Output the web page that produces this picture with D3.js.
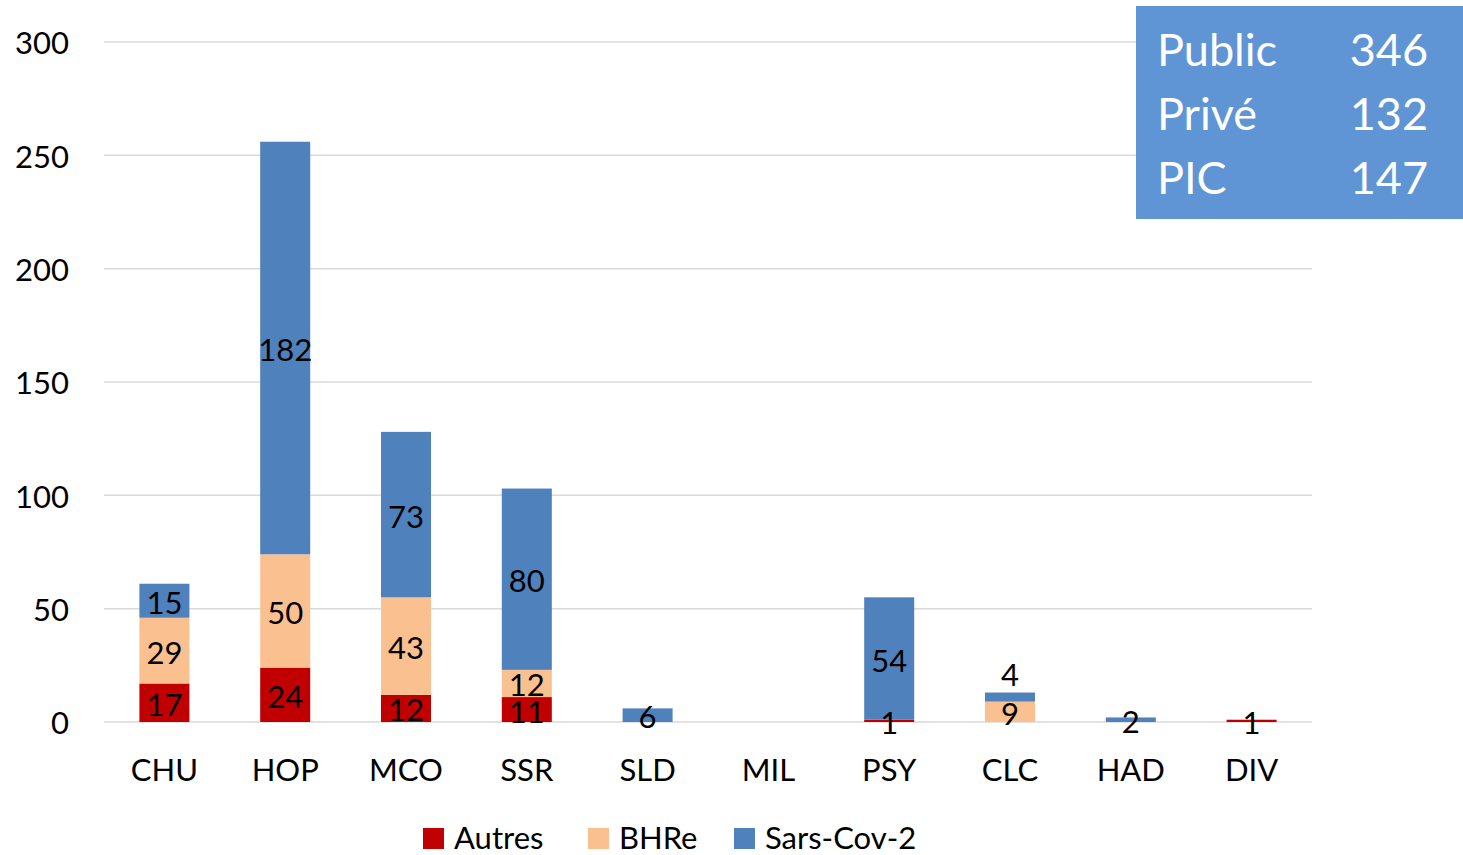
<!DOCTYPE html>
<html>
<head>
<meta charset="utf-8">
<script src="https://cdn.jsdelivr.net/npm/d3@7"></script>
<style>
  body { margin: 0; background: #fff; }
  svg text { font-family: Lato, "Open Sans", sans-serif; }
</style>
</head>
<body>
<div id="chart"></div>
<script>
const CATEGORIES = ["CHU", "HOP", "MCO", "SSR", "SLD", "MIL", "PSY", "CLC", "HAD", "DIV"];
const SERIES = ["Autres", "BHRe", "Sars-Cov-2"];
const AUTRES = [17, 24, 12, 11, 0, 0, 1, 0, 0, 1];
const BHRE = [29, 50, 43, 12, 0, 0, 0, 9, 0, 0];
const SARS = [15, 182, 73, 80, 6, 0, 54, 4, 2, 0];
const Y_TICKS = [0, 50, 100, 150, 200, 250, 300];
const BOX_LABELS = ["Public", "Privé", "PIC"];
const BOX_VALUES = [346, 132, 147];

const COLORS = { "Autres": "#c00000", "BHRe": "#fac090", "Sars-Cov-2": "#4f81bd" };

const WIDTH = 1463;
const HEIGHT = 855;
const MARGIN = { top: 42, right: 151, bottom: 133, left: 104 };
const boundedWidth = WIDTH - MARGIN.left - MARGIN.right;
const boundedHeight = HEIGHT - MARGIN.top - MARGIN.bottom;

const rows = CATEGORIES.map((c, i) => ({
  cat: c,
  "Autres": AUTRES[i],
  "BHRe": BHRE[i],
  "Sars-Cov-2": SARS[i]
}));

const stacked = d3.stack().keys(SERIES)(rows);

const xScale = d3.scaleBand()
  .domain(CATEGORIES)
  .range([0, boundedWidth])
  .paddingInner(0.586)
  .paddingOuter(0.293);

const yScale = d3.scaleLinear()
  .domain([0, 300])
  .range([boundedHeight, 0]);

const svg = d3.select("#chart")
  .append("svg")
  .attr("width", WIDTH)
  .attr("height", HEIGHT);

const bounds = svg.append("g")
  .attr("transform", `translate(${MARGIN.left}, ${MARGIN.top})`);

// gridlines
bounds.append("g")
  .selectAll("line")
  .data(Y_TICKS)
  .join("line")
  .attr("x1", 0)
  .attr("x2", boundedWidth)
  .attr("y1", d => yScale(d))
  .attr("y2", d => yScale(d))
  .attr("stroke", "#d9d9d9")
  .attr("stroke-width", 1.5);

// y axis labels
const yAxis = d3.axisLeft(yScale).tickValues(Y_TICKS).tickSize(0).tickPadding(35);
bounds.append("g")
  .call(yAxis)
  .call(g => g.select(".domain").remove())
  .selectAll("text")
  .attr("font-size", 31)
  .attr("dy", "0.38em")
  .attr("fill", "#000")
  .style("font-family", "Lato, sans-serif");

// x axis labels
const xAxis = d3.axisBottom(xScale).tickSize(0).tickPadding(37);
bounds.append("g")
  .attr("transform", `translate(0, ${boundedHeight})`)
  .call(xAxis)
  .call(g => g.select(".domain").remove())
  .selectAll("text")
  .attr("font-size", 31)
  .attr("fill", "#000")
  .style("font-family", "Lato, sans-serif");

// bars
const layers = bounds.append("g")
  .selectAll("g")
  .data(stacked)
  .join("g")
  .attr("fill", d => COLORS[d.key]);

layers.selectAll("rect")
  .data(d => d)
  .join("rect")
  .attr("x", d => xScale(d.data.cat))
  .attr("y", d => yScale(d[1]))
  .attr("width", xScale.bandwidth())
  .attr("height", d => yScale(d[0]) - yScale(d[1]));

// data labels
const labels = [];
stacked.forEach(layer => {
  layer.forEach(d => {
    const v = d[1] - d[0];
    if (v > 0) labels.push({ cat: d.data.cat, v, mid: (d[0] + d[1]) / 2, key: layer.key });
  });
});
// CLC's small Sars segment label sits above the bar
bounds.append("g")
  .selectAll("text")
  .data(labels)
  .join("text")
  .attr("x", d => xScale(d.cat) + xScale.bandwidth() / 2)
  .attr("y", d => (d.cat === "CLC" && d.key === "Sars-Cov-2") ? yScale(d.mid) - 24 : yScale(d.mid))
  .attr("dy", "0.42em")
  .attr("text-anchor", "middle")
  .attr("font-size", 31)
  .attr("fill", "#000")
  .text(d => d.v);

// legend
const legendItems = [
  { key: "Autres", x: 423 },
  { key: "BHRe", x: 588 },
  { key: "Sars-Cov-2", x: 734 }
];
const legend = svg.append("g");
legend.selectAll("rect")
  .data(legendItems)
  .join("rect")
  .attr("x", d => d.x)
  .attr("y", 828)
  .attr("width", 21)
  .attr("height", 21)
  .attr("fill", d => COLORS[d.key]);
legend.selectAll("text")
  .data(legendItems)
  .join("text")
  .attr("x", d => d.x + 31)
  .attr("y", 849)
  .attr("font-size", 31)
  .attr("fill", "#000")
  .text(d => d.key);

// info box
const box = svg.append("g").attr("transform", "translate(1136, 6)");
box.append("rect")
  .attr("width", 327)
  .attr("height", 213)
  .attr("fill", "#5f95d5");
box.selectAll("text.lbl")
  .data(BOX_LABELS)
  .join("text")
  .attr("class", "lbl")
  .attr("x", 21)
  .attr("y", (d, i) => 44 + i * 64)
  .attr("dy", "0.36em")
  .attr("font-size", 45)
  .attr("fill", "#fff")
  .text(d => d);
box.selectAll("text.val")
  .data(BOX_VALUES)
  .join("text")
  .attr("class", "val")
  .attr("x", 292)
  .attr("y", (d, i) => 44 + i * 64)
  .attr("dy", "0.36em")
  .attr("text-anchor", "end")
  .attr("font-size", 45)
  .attr("fill", "#fff")
  .text(d => d);
</script>
</body>
</html>
